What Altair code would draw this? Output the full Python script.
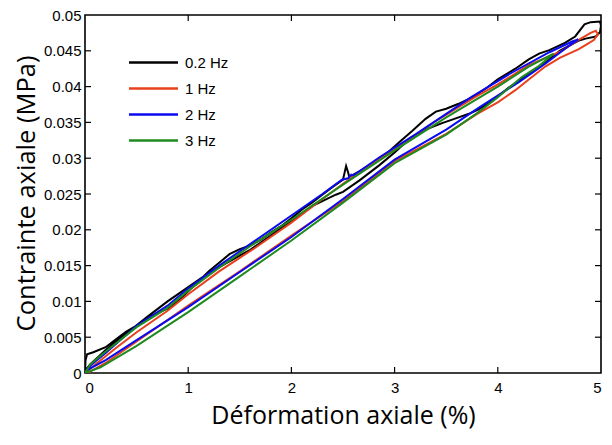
import altair as alt
import pandas as pd

# ---- data ----
series_names = ["0.2 Hz", "1 Hz", "2 Hz", "3 Hz"]
series_colors = ["#000000", "#e8401c", "#0a0af0", "#1f8a1f"]

# 0.2 Hz loop (loading then unloading)
x_02 = [0.0, 0.005, 0.02, 0.08, 0.2, 0.3, 0.4, 0.5, 0.6, 0.7, 0.8, 0.9, 1.0, 1.1, 1.2, 1.3, 1.4, 1.5, 1.6,
        1.7, 1.8, 1.9, 2.0, 2.1, 2.2, 2.3, 2.4, 2.5, 2.53, 2.55, 2.56, 2.65, 2.8, 2.95, 3.05, 3.17, 3.3,
        3.4, 3.5, 3.62, 3.78, 3.9, 4.0, 4.17, 4.3, 4.4, 4.5, 4.65, 4.75, 4.84, 4.9, 4.99, 5.0, 4.99, 4.95,
        4.85, 4.78, 4.6, 4.46, 4.3, 4.1, 3.95, 3.81, 3.72, 3.6, 3.46, 3.3, 3.15, 3.0, 2.85, 2.66, 2.5,
        2.43, 2.3, 2.2, 2.0, 1.8, 1.6, 1.4, 1.2, 1.0, 0.8, 0.6, 0.4, 0.2, 0.05, 0.0]
y_02 = [0.0, 0.0018, 0.0026, 0.0029, 0.0036, 0.0047, 0.0058, 0.0066, 0.0076, 0.0084, 0.0090, 0.0100,
        0.0114, 0.0128, 0.0142, 0.0154, 0.0166, 0.0173, 0.0178, 0.0186, 0.0196, 0.0205, 0.0216, 0.0228,
        0.0238, 0.0249, 0.0260, 0.0270, 0.0289, 0.0280, 0.0274, 0.0281, 0.0293, 0.0310, 0.0323, 0.0338,
        0.0355, 0.0365, 0.0369, 0.0376, 0.0387, 0.0399, 0.0410, 0.0425, 0.0438, 0.0446, 0.0451, 0.0461,
        0.0470, 0.0487, 0.0490, 0.0491, 0.0485, 0.0476, 0.0470, 0.0467, 0.0464, 0.0450, 0.0434, 0.0418,
        0.0398, 0.0380, 0.0368, 0.0362, 0.0356, 0.0349, 0.0340, 0.0328, 0.0308, 0.0290, 0.0269, 0.0253,
        0.0249, 0.0240, 0.0233, 0.0212, 0.0192, 0.0172, 0.0156, 0.0140, 0.0120, 0.0100, 0.0078, 0.0055,
        0.0032, 0.0012, 0.0003]

# 1 Hz loop
x_1 = [0.0, 0.1, 0.3, 0.5, 0.8, 1.0, 1.3, 1.66, 2.0, 2.3, 2.66, 3.0, 3.4, 3.8, 4.0, 4.3, 4.62, 4.78, 4.9,
       4.95, 4.97, 4.93, 4.85, 4.78, 4.6, 4.46, 4.3, 4.17, 4.0, 3.8, 3.5, 3.0, 2.5, 2.0, 1.5, 1.0, 0.5,
       0.2, 0.05, 0.0]
y_1 = [0.0, 0.0012, 0.0035, 0.0057, 0.0087, 0.0110, 0.0142, 0.0176, 0.0210, 0.0243, 0.0281, 0.0312,
       0.0352, 0.0387, 0.0403, 0.0430, 0.0450, 0.0465, 0.0475, 0.0478, 0.0473, 0.0465, 0.0458, 0.0452,
       0.0440, 0.0428, 0.0410, 0.0395, 0.0378, 0.0362, 0.0334, 0.0296, 0.0240, 0.0192, 0.0142, 0.0094,
       0.0044, 0.0014, 0.0002, 0.0]

# 2 Hz loop
x_2 = [0.0, 0.05, 0.2, 0.5, 0.8, 1.0, 1.3, 1.6, 2.0, 2.3, 2.49, 2.55, 2.58, 2.6, 2.62, 2.85, 3.21, 3.5,
       3.75, 4.13, 4.5, 4.72, 4.78, 4.7, 4.46, 4.2, 3.81, 3.5, 3.0, 2.5, 2.0, 1.5, 1.0, 0.5, 0.2, 0.02, 0.0]
y_2 = [0.0, 0.0010, 0.0028, 0.0066, 0.0094, 0.0118, 0.0150, 0.0180, 0.0220, 0.0250, 0.0270, 0.0272,
       0.0277, 0.0276, 0.0278, 0.0301, 0.0334, 0.0362, 0.0386, 0.0419, 0.0448, 0.0463, 0.0466, 0.0458,
       0.0432, 0.0406, 0.0370, 0.0340, 0.0298, 0.0243, 0.0190, 0.0141, 0.0092, 0.0046, 0.0018, 0.0004, 0.0]

# 3 Hz loop
x_3 = [0.0, 0.05, 0.2, 0.5, 0.8, 1.0, 1.3, 1.6, 2.0, 2.5, 3.0, 3.5, 4.0, 4.3, 4.54, 4.4, 4.23, 4.0, 3.81,
       3.5, 3.0, 2.5, 2.0, 1.5, 1.0, 0.5, 0.15, 0.0]
y_3 = [0.0, 0.0012, 0.0030, 0.0064, 0.0091, 0.0115, 0.0147, 0.0177, 0.0214, 0.0263, 0.0311, 0.0357,
       0.0400, 0.0428, 0.0446, 0.0429, 0.0413, 0.0385, 0.0364, 0.0333, 0.0293, 0.0238, 0.0185, 0.0135,
       0.0085, 0.0038, 0.0008, 0.0]

x_ticks = [0, 1, 2, 3, 4, 5]
y_ticks = [0, 0.005, 0.01, 0.015, 0.02, 0.025, 0.03, 0.035, 0.04, 0.045, 0.05]

# ---- build table ----
rows = []
for name, xs, ys in zip(series_names, [x_02, x_1, x_2, x_3], [y_02, y_1, y_2, y_3]):
    for i, (xv, yv) in enumerate(zip(xs, ys)):
        rows.append({"freq": name, "strain": xv, "stress": yv, "order": i})
df = pd.DataFrame(rows)

W, H = 516, 358
xscale = alt.Scale(domain=[0, 5], nice=False)
yscale = alt.Scale(domain=[0, 0.05], nice=False)

x_axis = alt.Axis(values=x_ticks, format="d", title="Déformation axiale (%)", grid=False,
                  ticks=False, tickSize=0, domain=False, labelPadding=7, labelFontSize=15,
                  labelFont="Liberation Sans", labelColor="#000", titleFont="Open Sans",
                  titleFontSize=25, titleFontWeight="normal", titleColor="#000",
                  titleX=258, titleY=50, titleAlign="center", titleBaseline="alphabetic")
y_axis = alt.Axis(values=y_ticks, format="~g", title="Contrainte axiale (MPa)", grid=False,
                  ticks=False, tickSize=0, domain=False, labelPadding=4, labelFontSize=15,
                  labelFont="Liberation Sans", labelColor="#000", titleFont="Open Sans",
                  titleFontSize=25.5, titleFontWeight="normal", titleColor="#000",
                  titleAngle=270, titleX=-51, titleY=178, titleAlign="center",
                  titleBaseline="alphabetic")

lines = alt.Chart(df).mark_line(strokeWidth=2, clip=True).encode(
    x=alt.X("strain:Q", scale=xscale, axis=x_axis),
    y=alt.Y("stress:Q", scale=yscale, axis=y_axis),
    color=alt.Color("freq:N", scale=alt.Scale(domain=series_names, range=series_colors),
                    legend=alt.Legend(orient="none", legendX=57, legendY=36, title=None,
                                      symbolType="M-2.45,0L2.45,0", symbolSize=400,
                                      symbolStrokeWidth=2.5, labelFontSize=15,
                                      labelFont="Liberation Sans", labelColor="#000",
                                      labelOffset=20, rowPadding=6, padding=0)),
    order="order:Q",
    detail="freq:N",
)

xt = pd.DataFrame({"strain": x_ticks[1:-1]})
yt = pd.DataFrame({"stress": y_ticks[1:-1]})
TL = 6
tick_bottom = alt.Chart(xt).mark_rule(color="black", strokeWidth=1.2).encode(
    x=alt.X("strain:Q", scale=xscale, axis=x_axis), y=alt.value(H), y2=alt.value(H - TL))
tick_top = alt.Chart(xt).mark_rule(color="black", strokeWidth=1.2).encode(
    x=alt.X("strain:Q", scale=xscale, axis=x_axis), y=alt.value(0), y2=alt.value(TL))
tick_left = alt.Chart(yt).mark_rule(color="black", strokeWidth=1.2).encode(
    y=alt.Y("stress:Q", scale=yscale, axis=y_axis), x=alt.value(0), x2=alt.value(TL))
tick_right = alt.Chart(yt).mark_rule(color="black", strokeWidth=1.2).encode(
    y=alt.Y("stress:Q", scale=yscale, axis=y_axis), x=alt.value(W), x2=alt.value(W - TL))

chart = alt.layer(lines, tick_bottom, tick_top, tick_left, tick_right).properties(
    width=W, height=H, autosize="none",
    padding={"left": 77, "top": 7, "right": 3, "bottom": 59},
    background="white",
).configure_view(stroke="black", strokeWidth=1.6)

chart.save("out.html", embed_options={"renderer": "svg", "actions": False})
